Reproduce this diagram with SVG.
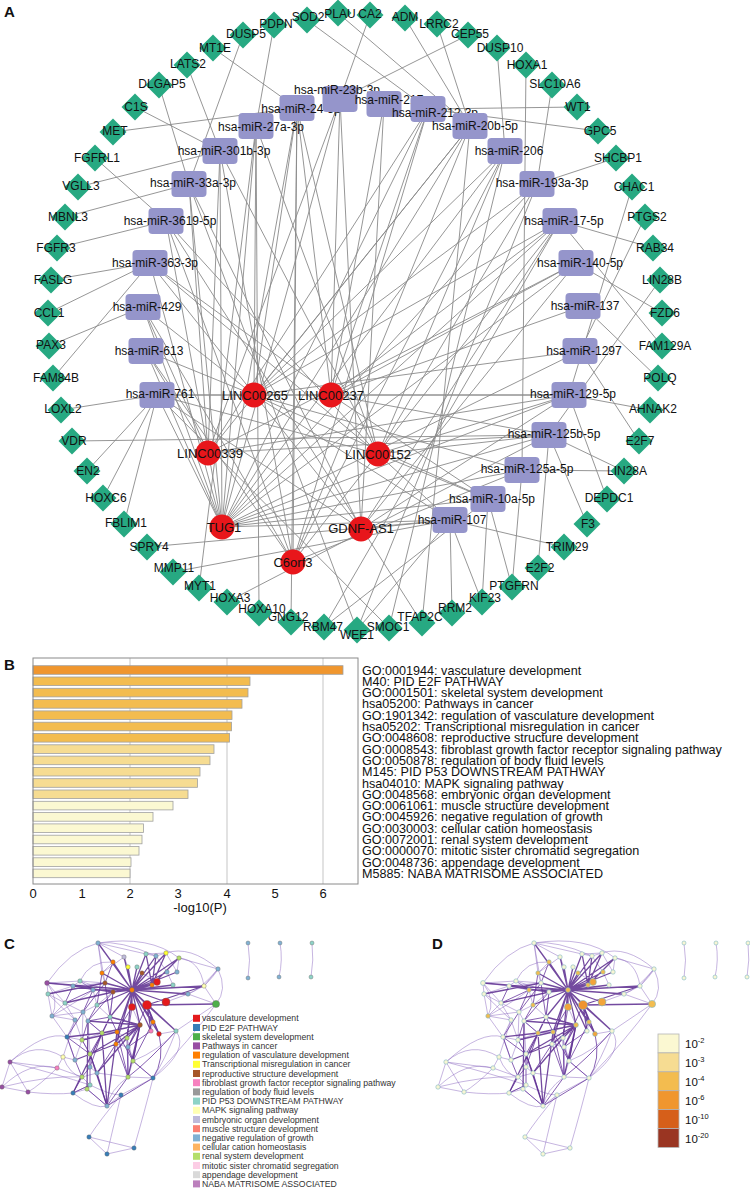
<svg xmlns="http://www.w3.org/2000/svg" width="750" height="1189" viewBox="0 0 750 1189">
<style>
.t{font-family:"Liberation Sans",Arial,sans-serif;fill:#111}
.c{text-anchor:middle;font-size:12px}
.lc{text-anchor:middle;font-size:13px}
.e line{stroke:#8a8a8a;stroke-width:0.9}
.g{fill:#27a982}
.m{fill:#9595cb}
.l{fill:#e8161b}
.pl{font-weight:bold;font-size:15px}
.bar{stroke:#a0a0a0;stroke-width:0.8}
.bl{font-size:12.6px}
.lg{font-size:8.7px;fill:#333}
.thick{fill:none;stroke:#5b2a8e;stroke-width:1.3;stroke-opacity:.85}
.mid{fill:none;stroke:#6a3aa0;stroke-width:1;stroke-opacity:.8}
.thin{fill:none;stroke:#8a68c0;stroke-width:.7;stroke-opacity:.7}
.cn circle{stroke:#666;stroke-width:.4}
.dn circle{stroke:#7fb8c4;stroke-width:.6}
</style>
<defs>
<path id="dia" d="M0-13.5L13.5 0L0 13.5L-13.5 0Z"/>
<rect id="mr" x="-17.5" y="-13" width="35" height="26" rx="4"/>
<g id="cnet">
<path class="thin" d="M47 983L73 986M47 983L48 994M47 983Q70 950 98 943M48 994L65 1003M73 986L93 990M93 990L97 1005M65 1003L75 1020M75 1020L67 1037M67 1037L82 1040M82 1040L75 1060M75 1060L63 1057M63 1057L57 1068M57 1068L10 1062M10 1062L2 1087M2 1087L28 1092M28 1092L10 1062M57 1068Q40 1085 28 1092M57 1068L82 1077M82 1077L90 1085M90 1085L73 1093M73 1093L87 1089M87 1089L107 1106M107 1106L121 1095M121 1095L153 1078M153 1078L133 1061M133 1061L128 1047M128 1047L116 1044M116 1044L127 1038M127 1038L117 1032M117 1032L102 1033M102 1033L88 1021M88 1021L83 1012M83 1012L52 1016M52 1016L48 994M52 1016L65 1003M110 1017L113 992M110 1017L97 1005M110 1017L102 1033M90 1054L90 1067M90 1067L97 1073M97 1073L82 1077M97 1073L128 1077M128 1077L133 1061M128 1077L153 1078M90 1054L82 1040M88 1021L90 1054M127 1038L133 1061M153 1022L151 1031M159 1034L176 1031M176 1031L216 1004M216 1004L204 986M204 986L218 969M218 969L179 958M179 958L177 972M166 953L156 956M146 954L156 956M124 957L128 967M113 962L102 973M98 943L124 957M98 943L102 973M102 973L105 983M105 983L73 986M80 981L105 983M80 981L113 992M113 992L97 1005M142 973L157 982M157 982L152 985M166 1002L188 994M188 994L204 986M188 994L216 1004M147 1005L153 1022M132 1007L140 1025M147 1005L159 1034M121 1095Q100 1120 89 1137M89 1137L134 1148M134 1148L107 1154M107 1154L89 1137M134 1148Q145 1110 153 1078M107 1154Q115 1120 121 1095M216 1004Q190 1040 153 1078M218 969Q228 990 216 1004M98 943L146 954M146 954L166 953M166 953L177 972M156 956L167 972M167 972L173 985M80 981L73 986M73 986L48 994M52 1016L75 1020M65 1003L83 1012M75 1020L82 1040M67 1037L75 1060M10 1062Q35 1040 63 1057M97 1005L83 1012M102 1033L82 1040M93 990L80 981M10 1062Q45 1030 67 1037M2 1087Q50 1075 82 1077M47 983L80 981M176 1031Q190 1050 153 1078M204 986Q215 975 218 969M98 943Q150 935 179 958M47 983Q60 1000 52 1016M90 1085Q110 1095 121 1095M128 1077Q110 1090 107 1106M63 1057Q70 1075 82 1077M179 958Q200 960 204 986M52 1016L67 1037M75 1020L63 1057M83 1012L82 1040M48 994L75 1020M47 983L65 1003M98 943L105 983M124 957L102 973M80 981L93 990M2 1087Q30 1060 57 1068M28 1092Q55 1095 73 1093M10 1062Q60 1075 90 1085M153 1078Q165 1060 176 1031M133 1061Q160 1050 176 1031M97 1073L107 1106M73 1093Q95 1110 107 1106M98 943Q120 940 156 956M218 969Q200 990 188 994M166 953Q190 945 218 969M52 1016Q80 1000 93 990M113 962Q90 960 80 981"/>
<path class="mid" d="M82 1040L90 1054M90 1054L90 1067M90 1067L90 1085M90 1085L87 1089M87 1089L107 1106M107 1106L97 1073M97 1073L90 1054M102 1033L90 1054M102 1033L90 1067M117 1032L128 1077M116 1044L128 1077M116 1044L97 1073M127 1038L128 1077M128 1047L133 1061M128 1047L128 1077M67 1037L90 1054M67 1037L75 1060M75 1060L82 1077M82 1077L73 1093M73 1093L90 1085M88 1021L82 1040M88 1021L102 1033M83 1012L67 1037M110 1017L88 1021M110 1017L117 1032M97 1005L88 1021M113 992L110 1017M93 990L83 1012M73 986L65 1003M105 983L110 1017M102 973L97 1005M113 962L105 983M133 1061L153 1078M128 1077L107 1106M153 1078L107 1106M90 1067L82 1077M117 1032L133 1061M140 1025L133 1061M153 1022L133 1061M151 1031L128 1047M147 1005L128 1047M132 1007L117 1032M132 1007L127 1038M159 1034Q165 1060 153 1078M176 1031Q150 1060 128 1077M113 992L88 1021M93 990L65 1003M105 983L83 1012"/>
<path class="thick" d="M132 990L98 943M132 990L113 962M132 990L124 957M132 990L128 967M132 990L137 967M132 990L146 954M132 990L156 956M132 990L166 953M132 990L179 958M132 990L142 973M132 990L167 972M132 990L177 972M132 990L105 983M132 990L157 982M132 990L173 985M132 990L204 986M132 990L152 985M132 990L188 994M132 990L166 1002M132 990L147 1005M132 990L132 1007M132 990L153 1022M132 990L140 1025M132 990L159 1034M132 990L151 1031M132 990L176 1031M132 990L117 1032M132 990L93 990M132 990L113 992M132 990L102 973M132 990L47 983M132 990L97 1005M132 990L110 1017M132 990L127 1038M132 990L116 1044M140 1025L102 1033M140 1025L127 1038M140 1025L128 1047M140 1025L90 1054M140 1025L133 1061M140 1025L128 1077M140 1025L116 1044M140 1025L110 1017M140 1025L88 1021M147 1005L153 1022M147 1005L159 1034M147 1005L151 1031M147 1005L176 1031M147 1005L216 1004M147 1005L204 986M152 985L146 954M152 985L166 953M152 985L156 956M152 985L179 958M113 992L65 1003M113 992L73 986M105 983L48 994M117 1032L82 1040M116 1044L75 1060M102 1033L67 1037M102 1033L107 1106M117 1032L107 1106M90 1054L107 1106M127 1038L97 1073M110 1017L73 1093M88 1021L87 1089"/>
<path class="thin" d="M248 943Q251 960 248 978M280 943Q283 960 279 977M312 943Q314 960 311 977"/>
</g>
</defs>

<text class="t pl" x="4" y="17">A</text>

<g id="connectors" class="e">
<line x1="222" y1="527" x2="297" y2="108"/><line x1="222" y1="527" x2="340" y2="99"/><line x1="222" y1="527" x2="428" y2="109"/><line x1="222" y1="527" x2="470" y2="126"/><line x1="222" y1="527" x2="505" y2="151"/><line x1="222" y1="527" x2="537" y2="184"/><line x1="222" y1="527" x2="560" y2="221"/><line x1="222" y1="527" x2="576" y2="263"/><line x1="222" y1="527" x2="580" y2="351"/><line x1="222" y1="527" x2="569" y2="395"/><line x1="222" y1="527" x2="549" y2="435"/><line x1="222" y1="527" x2="522" y2="470"/><line x1="222" y1="527" x2="488" y2="499"/><line x1="222" y1="527" x2="450" y2="520"/><line x1="222" y1="527" x2="256" y2="126"/><line x1="222" y1="527" x2="220" y2="151"/><line x1="222" y1="527" x2="189" y2="184"/><line x1="222" y1="527" x2="166" y2="221"/><line x1="222" y1="527" x2="150" y2="263"/><line x1="222" y1="527" x2="143" y2="307"/><line x1="222" y1="527" x2="146" y2="351"/><line x1="222" y1="527" x2="157" y2="395"/>
<line x1="254" y1="395" x2="157" y2="395"/><line x1="254" y1="395" x2="146" y2="351"/><line x1="254" y1="395" x2="143" y2="307"/><line x1="254" y1="395" x2="256" y2="126"/><line x1="254" y1="395" x2="297" y2="108"/><line x1="254" y1="395" x2="470" y2="126"/><line x1="254" y1="395" x2="505" y2="151"/><line x1="254" y1="395" x2="537" y2="184"/><line x1="254" y1="395" x2="560" y2="221"/><line x1="254" y1="395" x2="580" y2="351"/><line x1="254" y1="395" x2="569" y2="395"/><line x1="254" y1="395" x2="522" y2="470"/><line x1="254" y1="395" x2="488" y2="499"/><line x1="254" y1="395" x2="450" y2="520"/>
<line x1="331" y1="395" x2="157" y2="395"/><line x1="331" y1="395" x2="150" y2="263"/><line x1="331" y1="395" x2="297" y2="108"/><line x1="331" y1="395" x2="340" y2="99"/><line x1="331" y1="395" x2="384" y2="104"/><line x1="331" y1="395" x2="428" y2="109"/><line x1="331" y1="395" x2="560" y2="221"/><line x1="331" y1="395" x2="576" y2="263"/><line x1="331" y1="395" x2="583" y2="306"/><line x1="331" y1="395" x2="569" y2="395"/><line x1="331" y1="395" x2="549" y2="435"/><line x1="331" y1="395" x2="488" y2="499"/>
<line x1="208" y1="453" x2="146" y2="351"/><line x1="208" y1="453" x2="143" y2="307"/><line x1="208" y1="453" x2="220" y2="151"/><line x1="208" y1="453" x2="189" y2="184"/><line x1="208" y1="453" x2="340" y2="99"/><line x1="208" y1="453" x2="428" y2="109"/><line x1="208" y1="453" x2="470" y2="126"/><line x1="208" y1="453" x2="576" y2="263"/><line x1="208" y1="453" x2="569" y2="395"/><line x1="208" y1="453" x2="549" y2="435"/>
<line x1="378" y1="454" x2="150" y2="263"/><line x1="378" y1="454" x2="166" y2="221"/><line x1="378" y1="454" x2="256" y2="126"/><line x1="378" y1="454" x2="220" y2="151"/><line x1="378" y1="454" x2="297" y2="108"/><line x1="378" y1="454" x2="505" y2="151"/><line x1="378" y1="454" x2="537" y2="184"/><line x1="378" y1="454" x2="569" y2="395"/><line x1="378" y1="454" x2="549" y2="435"/><line x1="378" y1="454" x2="488" y2="499"/><line x1="378" y1="454" x2="450" y2="520"/><line x1="378" y1="454" x2="157" y2="395"/>
<line x1="361" y1="529" x2="157" y2="395"/><line x1="361" y1="529" x2="150" y2="263"/><line x1="361" y1="529" x2="189" y2="184"/><line x1="361" y1="529" x2="340" y2="99"/><line x1="361" y1="529" x2="384" y2="104"/><line x1="361" y1="529" x2="560" y2="221"/><line x1="361" y1="529" x2="576" y2="263"/><line x1="361" y1="529" x2="569" y2="395"/><line x1="361" y1="529" x2="450" y2="520"/>
<line x1="293" y1="562" x2="146" y2="351"/><line x1="293" y1="562" x2="143" y2="307"/><line x1="293" y1="562" x2="166" y2="221"/><line x1="293" y1="562" x2="220" y2="151"/><line x1="293" y1="562" x2="297" y2="108"/><line x1="293" y1="562" x2="428" y2="109"/><line x1="293" y1="562" x2="470" y2="126"/><line x1="293" y1="562" x2="505" y2="151"/><line x1="293" y1="562" x2="560" y2="221"/><line x1="293" y1="562" x2="522" y2="470"/>
<line x1="307" y1="20" x2="428" y2="109"/><line x1="338" y1="13" x2="470" y2="126"/><line x1="370" y1="15" x2="340" y2="99"/><line x1="405" y1="18" x2="470" y2="126"/><line x1="437" y1="24" x2="470" y2="126"/><line x1="468" y1="35" x2="340" y2="99"/><line x1="497" y1="48" x2="505" y2="151"/><line x1="526" y1="65" x2="522" y2="470"/><line x1="552" y1="85" x2="537" y2="184"/><line x1="577" y1="107" x2="428" y2="109"/><line x1="598" y1="131" x2="428" y2="109"/><line x1="616" y1="158" x2="537" y2="184"/><line x1="632" y1="187" x2="569" y2="395"/><line x1="645" y1="217" x2="580" y2="351"/><line x1="653" y1="248" x2="560" y2="221"/><line x1="660" y1="280" x2="549" y2="435"/><line x1="662" y1="313" x2="576" y2="263"/><line x1="662" y1="346" x2="560" y2="221"/><line x1="658" y1="378" x2="583" y2="306"/><line x1="650" y1="410" x2="569" y2="395"/><line x1="639" y1="441" x2="580" y2="351"/><line x1="624" y1="471" x2="522" y2="470"/><line x1="624" y1="471" x2="549" y2="435"/><line x1="607" y1="499" x2="569" y2="395"/><line x1="587" y1="524" x2="549" y2="435"/><line x1="564" y1="547" x2="450" y2="520"/><line x1="538" y1="568" x2="549" y2="435"/><line x1="512" y1="587" x2="488" y2="499"/><line x1="512" y1="587" x2="522" y2="470"/><line x1="482" y1="602" x2="488" y2="499"/><line x1="482" y1="602" x2="450" y2="520"/><line x1="452" y1="613" x2="450" y2="520"/><line x1="422" y1="623" x2="166" y2="221"/><line x1="422" y1="623" x2="470" y2="126"/><line x1="389" y1="628" x2="157" y2="395"/><line x1="389" y1="628" x2="505" y2="151"/><line x1="357" y1="630" x2="450" y2="520"/><line x1="357" y1="630" x2="189" y2="184"/><line x1="357" y1="630" x2="537" y2="184"/><line x1="324" y1="627" x2="488" y2="499"/><line x1="324" y1="627" x2="560" y2="221"/><line x1="291" y1="622" x2="297" y2="108"/><line x1="259" y1="613" x2="256" y2="126"/><line x1="227" y1="602" x2="549" y2="435"/><line x1="199" y1="588" x2="256" y2="126"/><line x1="173" y1="572" x2="450" y2="520"/><line x1="147" y1="547" x2="450" y2="520"/><line x1="124" y1="524" x2="157" y2="395"/><line x1="103" y1="498" x2="157" y2="395"/><line x1="87" y1="471" x2="157" y2="395"/><line x1="72" y1="441" x2="549" y2="435"/><line x1="61" y1="410" x2="157" y2="395"/><line x1="53" y1="378" x2="150" y2="263"/><line x1="49" y1="346" x2="143" y2="307"/><line x1="48" y1="313" x2="150" y2="263"/><line x1="51" y1="280" x2="150" y2="263"/><line x1="57" y1="248" x2="166" y2="221"/><line x1="65" y1="217" x2="189" y2="184"/><line x1="78" y1="187" x2="220" y2="151"/><line x1="95" y1="158" x2="166" y2="221"/><line x1="113" y1="132" x2="297" y2="108"/><line x1="135" y1="107" x2="220" y2="151"/><line x1="159" y1="85" x2="189" y2="184"/><line x1="187" y1="65" x2="220" y2="151"/><line x1="213" y1="48" x2="297" y2="108"/><line x1="243" y1="35" x2="189" y2="184"/><line x1="274" y1="25" x2="256" y2="126"/>
</g>

<g id="mirnas" class="t">
<g id="m-24-3p"><use href="#mr" x="297" y="108" class="m"/><text class="c" x="301" y="113">hsa-miR-24-3p</text></g>
<g id="m-23b-3p"><use href="#mr" x="340" y="99" class="m"/><text class="c" x="337" y="94">hsa-miR-23b-3p</text></g>
<g id="m-217"><use href="#mr" x="384" y="104" class="m"/><text class="c" x="389" y="104">hsa-miR-217</text></g>
<g id="m-212-3p"><use href="#mr" x="428" y="109" class="m"/><text class="c" x="435" y="117">hsa-miR-212-3p</text></g>
<g id="m-20b-5p"><use href="#mr" x="470" y="126" class="m"/><text class="c" x="475" y="130">hsa-miR-20b-5p</text></g>
<g id="m-206"><use href="#mr" x="505" y="151" class="m"/><text class="c" x="509" y="155">hsa-miR-206</text></g>
<g id="m-193a-3p"><use href="#mr" x="537" y="184" class="m"/><text class="c" x="542" y="187">hsa-miR-193a-3p</text></g>
<g id="m-17-5p"><use href="#mr" x="560" y="221" class="m"/><text class="c" x="564" y="225">hsa-miR-17-5p</text></g>
<g id="m-140-5p"><use href="#mr" x="576" y="263" class="m"/><text class="c" x="580" y="267">hsa-miR-140-5p</text></g>
<g id="m-137"><use href="#mr" x="583" y="306" class="m"/><text class="c" x="585" y="310">hsa-miR-137</text></g>
<g id="m-1297"><use href="#mr" x="580" y="351" class="m"/><text class="c" x="584" y="355">hsa-miR-1297</text></g>
<g id="m-129-5p"><use href="#mr" x="569" y="395" class="m"/><text class="c" x="573" y="398">hsa-miR-129-5p</text></g>
<g id="m-125b-5p"><use href="#mr" x="549" y="435" class="m"/><text class="c" x="554" y="438">hsa-miR-125b-5p</text></g>
<g id="m-125a-5p"><use href="#mr" x="522" y="470" class="m"/><text class="c" x="527" y="473">hsa-miR-125a-5p</text></g>
<g id="m-10a-5p"><use href="#mr" x="488" y="499" class="m"/><text class="c" x="492" y="503">hsa-miR-10a-5p</text></g>
<g id="m-107"><use href="#mr" x="450" y="520" class="m"/><text class="c" x="452" y="524">hsa-miR-107</text></g>
<g id="m-27a-3p"><use href="#mr" x="256" y="126" class="m"/><text class="c" x="261" y="131">hsa-miR-27a-3p</text></g>
<g id="m-301b-3p"><use href="#mr" x="220" y="151" class="m"/><text class="c" x="224" y="155">hsa-miR-301b-3p</text></g>
<g id="m-33a-3p"><use href="#mr" x="189" y="184" class="m"/><text class="c" x="193" y="187">hsa-miR-33a-3p</text></g>
<g id="m-3619-5p"><use href="#mr" x="166" y="221" class="m"/><text class="c" x="170" y="225">hsa-miR-3619-5p</text></g>
<g id="m-363-3p"><use href="#mr" x="150" y="263" class="m"/><text class="c" x="155" y="267">hsa-miR-363-3p</text></g>
<g id="m-429"><use href="#mr" x="143" y="307" class="m"/><text class="c" x="147" y="311">hsa-miR-429</text></g>
<g id="m-613"><use href="#mr" x="146" y="351" class="m"/><text class="c" x="149" y="355">hsa-miR-613</text></g>
<g id="m-761"><use href="#mr" x="157" y="395" class="m"/><text class="c" x="160" y="398">hsa-miR-761</text></g>
</g>

<g id="genes" class="t">
<g id="g-SOD2"><use href="#dia" x="307" y="20" class="g"/><text class="c" x="308" y="21">SOD2</text></g>
<g id="g-PLAU"><use href="#dia" x="338" y="13" class="g"/><text class="c" x="340" y="18">PLAU</text></g>
<g id="g-CA2"><use href="#dia" x="370" y="15" class="g"/><text class="c" x="370" y="18">CA2</text></g>
<g id="g-ADM"><use href="#dia" x="405" y="18" class="g"/><text class="c" x="405" y="21">ADM</text></g>
<g id="g-LRRC2"><use href="#dia" x="437" y="24" class="g"/><text class="c" x="439" y="28">LRRC2</text></g>
<g id="g-CEP55"><use href="#dia" x="468" y="35" class="g"/><text class="c" x="470" y="38">CEP55</text></g>
<g id="g-DUSP10"><use href="#dia" x="497" y="48" class="g"/><text class="c" x="500" y="52">DUSP10</text></g>
<g id="g-HOXA1"><use href="#dia" x="526" y="65" class="g"/><text class="c" x="527" y="69">HOXA1</text></g>
<g id="g-SLC10A6"><use href="#dia" x="552" y="85" class="g"/><text class="c" x="555" y="88">SLC10A6</text></g>
<g id="g-WT1"><use href="#dia" x="577" y="107" class="g"/><text class="c" x="578" y="111">WT1</text></g>
<g id="g-GPC5"><use href="#dia" x="598" y="131" class="g"/><text class="c" x="600" y="135">GPC5</text></g>
<g id="g-SHCBP1"><use href="#dia" x="616" y="158" class="g"/><text class="c" x="618" y="162">SHCBP1</text></g>
<g id="g-CHAC1"><use href="#dia" x="632" y="187" class="g"/><text class="c" x="634" y="191">CHAC1</text></g>
<g id="g-PTGS2"><use href="#dia" x="645" y="217" class="g"/><text class="c" x="647" y="221">PTGS2</text></g>
<g id="g-RAB34"><use href="#dia" x="653" y="248" class="g"/><text class="c" x="655" y="252">RAB34</text></g>
<g id="g-LIN28B"><use href="#dia" x="660" y="280" class="g"/><text class="c" x="662" y="284">LIN28B</text></g>
<g id="g-FZD6"><use href="#dia" x="662" y="313" class="g"/><text class="c" x="665" y="317">FZD6</text></g>
<g id="g-FAM129A"><use href="#dia" x="662" y="346" class="g"/><text class="c" x="665" y="350">FAM129A</text></g>
<g id="g-POLQ"><use href="#dia" x="658" y="378" class="g"/><text class="c" x="660" y="382">POLQ</text></g>
<g id="g-AHNAK2"><use href="#dia" x="650" y="410" class="g"/><text class="c" x="653" y="413">AHNAK2</text></g>
<g id="g-E2F7"><use href="#dia" x="639" y="441" class="g"/><text class="c" x="640" y="445">E2F7</text></g>
<g id="g-LIN28A"><use href="#dia" x="624" y="471" class="g"/><text class="c" x="627" y="475">LIN28A</text></g>
<g id="g-DEPDC1"><use href="#dia" x="607" y="499" class="g"/><text class="c" x="609" y="502">DEPDC1</text></g>
<g id="g-F3"><use href="#dia" x="587" y="524" class="g"/><text class="c" x="588" y="528">F3</text></g>
<g id="g-TRIM29"><use href="#dia" x="564" y="547" class="g"/><text class="c" x="567" y="551">TRIM29</text></g>
<g id="g-E2F2"><use href="#dia" x="538" y="568" class="g"/><text class="c" x="540" y="572">E2F2</text></g>
<g id="g-PTGFRN"><use href="#dia" x="512" y="587" class="g"/><text class="c" x="514" y="590">PTGFRN</text></g>
<g id="g-KIF23"><use href="#dia" x="482" y="602" class="g"/><text class="c" x="485" y="602">KIF23</text></g>
<g id="g-RRM2"><use href="#dia" x="452" y="613" class="g"/><text class="c" x="455" y="612">RRM2</text></g>
<g id="g-TFAP2C"><use href="#dia" x="422" y="623" class="g"/><text class="c" x="420" y="621">TFAP2C</text></g>
<g id="g-SMOC1"><use href="#dia" x="389" y="628" class="g"/><text class="c" x="388" y="631">SMOC1</text></g>
<g id="g-RBM47"><use href="#dia" x="324" y="627" class="g"/><text class="c" x="323" y="631">RBM47</text></g>
<g id="g-WEE1"><use href="#dia" x="357" y="630" class="g"/><text class="c" x="357" y="639">WEE1</text></g>
<g id="g-GNG12"><use href="#dia" x="291" y="622" class="g"/><text class="c" x="288" y="621">GNG12</text></g>
<g id="g-HOXA10"><use href="#dia" x="259" y="613" class="g"/><text class="c" x="262" y="613">HOXA10</text></g>
<g id="g-HOXA3"><use href="#dia" x="227" y="602" class="g"/><text class="c" x="230" y="602">HOXA3</text></g>
<g id="g-MYT1"><use href="#dia" x="199" y="588" class="g"/><text class="c" x="200" y="590">MYT1</text></g>
<g id="g-MMP11"><use href="#dia" x="173" y="572" class="g"/><text class="c" x="174" y="572">MMP11</text></g>
<g id="g-SPRY4"><use href="#dia" x="147" y="547" class="g"/><text class="c" x="149" y="551">SPRY4</text></g>
<g id="g-FBLIM1"><use href="#dia" x="124" y="524" class="g"/><text class="c" x="126" y="527">FBLIM1</text></g>
<g id="g-HOXC6"><use href="#dia" x="103" y="498" class="g"/><text class="c" x="106" y="502">HOXC6</text></g>
<g id="g-EN2"><use href="#dia" x="87" y="471" class="g"/><text class="c" x="88" y="475">EN2</text></g>
<g id="g-VDR"><use href="#dia" x="72" y="441" class="g"/><text class="c" x="74" y="445">VDR</text></g>
<g id="g-LOXL2"><use href="#dia" x="61" y="410" class="g"/><text class="c" x="63" y="413">LOXL2</text></g>
<g id="g-FAM84B"><use href="#dia" x="53" y="378" class="g"/><text class="c" x="56" y="382">FAM84B</text></g>
<g id="g-PAX3"><use href="#dia" x="49" y="346" class="g"/><text class="c" x="51" y="349">PAX3</text></g>
<g id="g-CCL1"><use href="#dia" x="48" y="313" class="g"/><text class="c" x="49" y="317">CCL1</text></g>
<g id="g-FASLG"><use href="#dia" x="51" y="280" class="g"/><text class="c" x="53" y="284">FASLG</text></g>
<g id="g-FGFR3"><use href="#dia" x="57" y="248" class="g"/><text class="c" x="56" y="252">FGFR3</text></g>
<g id="g-MBNL3"><use href="#dia" x="65" y="217" class="g"/><text class="c" x="68" y="221">MBNL3</text></g>
<g id="g-VGLL3"><use href="#dia" x="78" y="187" class="g"/><text class="c" x="81" y="190">VGLL3</text></g>
<g id="g-FGFRL1"><use href="#dia" x="95" y="158" class="g"/><text class="c" x="97" y="162">FGFRL1</text></g>
<g id="g-MET"><use href="#dia" x="113" y="132" class="g"/><text class="c" x="115" y="135">MET</text></g>
<g id="g-C1S"><use href="#dia" x="135" y="107" class="g"/><text class="c" x="136" y="111">C1S</text></g>
<g id="g-DLGAP5"><use href="#dia" x="159" y="85" class="g"/><text class="c" x="162" y="88">DLGAP5</text></g>
<g id="g-LATS2"><use href="#dia" x="187" y="65" class="g"/><text class="c" x="188" y="68">LATS2</text></g>
<g id="g-MT1E"><use href="#dia" x="213" y="48" class="g"/><text class="c" x="215" y="52">MT1E</text></g>
<g id="g-DUSP5"><use href="#dia" x="243" y="35" class="g"/><text class="c" x="246" y="38">DUSP5</text></g>
<g id="g-PDPN"><use href="#dia" x="274" y="25" class="g"/><text class="c" x="276" y="28">PDPN</text></g>
</g>

<g id="lncrnas" class="t">
<g id="l-LINC00265"><circle cx="254" cy="395" r="12.5" class="l"/><text class="lc" x="255" y="400">LINC00265</text></g>
<g id="l-LINC00237"><circle cx="331" cy="395" r="12.5" class="l"/><text class="lc" x="331" y="400">LINC00237</text></g>
<g id="l-LINC00339"><circle cx="208" cy="453" r="12.5" class="l"/><text class="lc" x="210" y="458">LINC00339</text></g>
<g id="l-LINC00152"><circle cx="378" cy="454" r="12.5" class="l"/><text class="lc" x="378" y="459">LINC00152</text></g>
<g id="l-TUG1"><circle cx="222" cy="527" r="12.5" class="l"/><text class="lc" x="224" y="532">TUG1</text></g>
<g id="l-GDNF-AS1"><circle cx="361" cy="529" r="12.5" class="l"/><text class="lc" x="361" y="533">GDNF-AS1</text></g>
<g id="l-C6orf3"><circle cx="293" cy="562" r="12.5" class="l"/><text class="lc" x="293" y="567">C6orf3</text></g>
</g>

<g id="panelB" class="t">
<text class="pl" x="4" y="670">B</text>
<g stroke="#cfcfcf" stroke-width="1.2"><line x1="130" y1="658" x2="130" y2="884"/><line x1="227" y1="658" x2="227" y2="884"/><line x1="323" y1="658" x2="323" y2="884"/></g>
<g class="bar">
<rect x="33" y="665.7" width="310" height="8.6" fill="#f0962e"/>
<rect x="33" y="677" width="217" height="8.6" fill="#f3bc4f"/>
<rect x="33" y="688.3" width="215" height="8.6" fill="#f3bc4f"/>
<rect x="33" y="699.6" width="209" height="8.6" fill="#f3bc4f"/>
<rect x="33" y="710.9" width="199" height="8.6" fill="#f3bc4f"/>
<rect x="33" y="722.2" width="198.5" height="8.6" fill="#f3bc4f"/>
<rect x="33" y="733.5" width="196.5" height="8.6" fill="#f3bc4f"/>
<rect x="33" y="744.8" width="181" height="8.6" fill="#f6dc92"/>
<rect x="33" y="756.1" width="177" height="8.6" fill="#f6dc92"/>
<rect x="33" y="767.4" width="167" height="8.6" fill="#f6dc92"/>
<rect x="33" y="778.7" width="164.5" height="8.6" fill="#f6dc92"/>
<rect x="33" y="790" width="155" height="8.6" fill="#f6dc92"/>
<rect x="33" y="801.3" width="140" height="8.6" fill="#fbf8d2"/>
<rect x="33" y="812.6" width="120" height="8.6" fill="#fbf8d2"/>
<rect x="33" y="823.9" width="110.5" height="8.6" fill="#fbf8d2"/>
<rect x="33" y="835.2" width="109" height="8.6" fill="#fbf8d2"/>
<rect x="33" y="846.5" width="106" height="8.6" fill="#fbf8d2"/>
<rect x="33" y="857.8" width="98" height="8.6" fill="#fbf8d2"/>
<rect x="33" y="869.1" width="97" height="8.6" fill="#fbf8d2"/>
</g>
<rect x="33" y="658" width="325" height="226" fill="none" stroke="#8a8a8a" stroke-width="1"/>
<g class="bl">
<text x="362" y="674.5">GO:0001944: vasculature development</text>
<text x="362" y="685.8">M40: PID E2F PATHWAY</text>
<text x="362" y="697.1">GO:0001501: skeletal system development</text>
<text x="362" y="708.4">hsa05200: Pathways in cancer</text>
<text x="362" y="719.7">GO:1901342: regulation of vasculature development</text>
<text x="362" y="731">hsa05202: Transcriptional misregulation in cancer</text>
<text x="362" y="742.3">GO:0048608: reproductive structure development</text>
<text x="362" y="753.6">GO:0008543: fibroblast growth factor receptor signaling pathway</text>
<text x="362" y="764.9">GO:0050878: regulation of body fluid levels</text>
<text x="362" y="776.2">M145: PID P53 DOWNSTREAM PATHWAY</text>
<text x="362" y="787.5">hsa04010: MAPK signaling pathway</text>
<text x="362" y="798.8">GO:0048568: embryonic organ development</text>
<text x="362" y="810.1">GO:0061061: muscle structure development</text>
<text x="362" y="821.4">GO:0045926: negative regulation of growth</text>
<text x="362" y="832.7">GO:0030003: cellular cation homeostasis</text>
<text x="362" y="844">GO:0072001: renal system development</text>
<text x="362" y="855.3">GO:0000070: mitotic sister chromatid segregation</text>
<text x="362" y="866.6">GO:0048736: appendage development</text>
<text x="362" y="877.9">M5885: NABA MATRISOME ASSOCIATED</text>
</g>
<g font-size="13px" text-anchor="middle">
<text x="33" y="898">0</text><text x="82" y="898">1</text><text x="130" y="898">2</text><text x="178" y="898">3</text><text x="227" y="898">4</text><text x="275" y="898">5</text><text x="323" y="898">6</text>
<text x="200" y="912">-log10(P)</text>
</g>
</g>

<g id="panelC" class="t">
<text class="pl" x="4" y="949">C</text>
<use href="#cnet"/>
<g class="cn" fill="#80b1d3">
<circle cx="98" cy="943" r="2.2"/><circle cx="113" cy="962" r="2.2" fill="#ff7f00"/><circle cx="124" cy="957" r="2.2" fill="#bebada"/><circle cx="128" cy="967" r="2.2" fill="#ffff33"/><circle cx="137" cy="967" r="2.2" fill="#8dd3c7"/><circle cx="146" cy="954" r="2.2" fill="#8dd3c7"/><circle cx="156" cy="956" r="2.2"/><circle cx="166" cy="953" r="2.2" fill="#ffff33"/><circle cx="179" cy="958" r="2.2" fill="#b3de69"/><circle cx="142" cy="973" r="2.2" fill="#a65628"/><circle cx="167" cy="972" r="2.2"/><circle cx="177" cy="972" r="2.2"/><circle cx="102" cy="973" r="2.2" fill="#ff7f00"/><circle cx="47" cy="983" r="2.4" fill="#984ea3"/><circle cx="80" cy="981" r="2.2" fill="#8dd3c7"/><circle cx="105" cy="983" r="2.2" fill="#a65628"/><circle cx="157" cy="982" r="3.4" fill="#e41a1c"/><circle cx="173" cy="985" r="2.2" fill="#8dd3c7"/><circle cx="204" cy="986" r="2.2" fill="#ffffb3"/><circle cx="218" cy="969" r="2.2"/><circle cx="48" cy="994" r="2.2" fill="#8dd3c7"/><circle cx="73" cy="986" r="2.2"/><circle cx="93" cy="990" r="2.2"/><circle cx="113" cy="992" r="2.2" fill="#a65628"/><circle cx="132" cy="990" r="2.4" fill="#ff7f00"/><circle cx="152" cy="985" r="2.2" fill="#ff7f00"/><circle cx="188" cy="994" r="2.2"/><circle cx="166" cy="1002" r="4" fill="#e41a1c"/><circle cx="147" cy="1005" r="4.6" fill="#e41a1c"/><circle cx="132" cy="1007" r="3.6" fill="#e41a1c"/><circle cx="216" cy="1004" r="3.6" fill="#4daf4a"/><circle cx="52" cy="1016" r="2.2"/><circle cx="65" cy="1003" r="2.2" fill="#8dd3c7"/><circle cx="97" cy="1005" r="2.2" fill="#8dd3c7"/><circle cx="110" cy="1017" r="2.2" fill="#8dd3c7"/><circle cx="83" cy="1012" r="2.2"/><circle cx="153" cy="1022" r="2.2" fill="#ff7f00"/><circle cx="140" cy="1025" r="2.4" fill="#a65628"/><circle cx="159" cy="1034" r="2.4" fill="#e41a1c"/><circle cx="151" cy="1031" r="2.2" fill="#f781bf"/><circle cx="176" cy="1031" r="2.2" fill="#8dd3c7"/><circle cx="88" cy="1021" r="2.2"/><circle cx="75" cy="1020" r="2.2"/><circle cx="102" cy="1033" r="2.2" fill="#b3de69"/><circle cx="67" cy="1037" r="2.2" fill="#377eb8"/><circle cx="117" cy="1032" r="2.2" fill="#ff7f00"/><circle cx="127" cy="1038" r="2.2" fill="#b3de69"/><circle cx="116" cy="1044" r="2.2" fill="#ff7f00"/><circle cx="128" cy="1047" r="2.2"/><circle cx="82" cy="1040" r="2.2" fill="#b3de69"/><circle cx="63" cy="1057" r="2.2" fill="#ffffb3"/><circle cx="90" cy="1054" r="2.2" fill="#b3de69"/><circle cx="75" cy="1060" r="2.2"/><circle cx="133" cy="1061" r="2.2" fill="#b3de69"/><circle cx="57" cy="1068" r="2.2" fill="#f781bf"/><circle cx="10" cy="1062" r="2.2" fill="#984ea3"/><circle cx="90" cy="1067" r="2.2"/><circle cx="82" cy="1077" r="2.2" fill="#b3de69"/><circle cx="128" cy="1077" r="2.2" fill="#b3de69"/><circle cx="153" cy="1078" r="2.2" fill="#377eb8"/><circle cx="97" cy="1073" r="2.2"/><circle cx="90" cy="1085" r="2.2" fill="#8dd3c7"/><circle cx="73" cy="1093" r="2.2" fill="#377eb8"/><circle cx="87" cy="1089" r="2.2" fill="#b3de69"/><circle cx="2" cy="1087" r="2.2" fill="#984ea3"/><circle cx="28" cy="1092" r="2.2" fill="#984ea3"/><circle cx="107" cy="1106" r="2.2"/><circle cx="121" cy="1095" r="2.2" fill="#377eb8"/><circle cx="89" cy="1137" r="2.2" fill="#377eb8"/><circle cx="134" cy="1148" r="2.2" fill="#377eb8"/><circle cx="107" cy="1154" r="2.2" fill="#377eb8"/>
<circle cx="248" cy="943" r="2"/><circle cx="248" cy="978" r="2"/><circle cx="280" cy="943" r="2"/><circle cx="279" cy="977" r="2"/><circle cx="312" cy="943" r="2" fill="#8dd3c7"/><circle cx="311" cy="977" r="2" fill="#8dd3c7"/>
</g>
<g id="legendC" class="lg">
<rect x="193" y="1014.8" width="7" height="7" fill="#e41a1c"/><text x="202" y="1021.4">vasculature development</text>
<rect x="193" y="1024" width="7" height="7" fill="#377eb8"/><text x="202" y="1030.6">PID E2F PATHWAY</text>
<rect x="193" y="1033.2" width="7" height="7" fill="#4daf4a"/><text x="202" y="1039.8">skeletal system development</text>
<rect x="193" y="1042.4" width="7" height="7" fill="#984ea3"/><text x="202" y="1049">Pathways in cancer</text>
<rect x="193" y="1051.6" width="7" height="7" fill="#ff7f00"/><text x="202" y="1058.2">regulation of vasculature development</text>
<rect x="193" y="1060.8" width="7" height="7" fill="#ffff33"/><text x="202" y="1067.4">Transcriptional misregulation in cancer</text>
<rect x="193" y="1070" width="7" height="7" fill="#a65628"/><text x="202" y="1076.6">reproductive structure development</text>
<rect x="193" y="1079.2" width="7" height="7" fill="#f781bf"/><text x="202" y="1085.8">fibroblast growth factor receptor signaling pathway</text>
<rect x="193" y="1088.4" width="7" height="7" fill="#999999"/><text x="202" y="1095">regulation of body fluid levels</text>
<rect x="193" y="1097.6" width="7" height="7" fill="#8dd3c7"/><text x="202" y="1104.2">PID P53 DOWNSTREAM PATHWAY</text>
<rect x="193" y="1106.8" width="7" height="7" fill="#ffffb3"/><text x="202" y="1113.4">MAPK signaling pathway</text>
<rect x="193" y="1116" width="7" height="7" fill="#bebada"/><text x="202" y="1122.6">embryonic organ development</text>
<rect x="193" y="1125.2" width="7" height="7" fill="#fb8072"/><text x="202" y="1131.8">muscle structure development</text>
<rect x="193" y="1134.4" width="7" height="7" fill="#80b1d3"/><text x="202" y="1141">negative regulation of growth</text>
<rect x="193" y="1143.6" width="7" height="7" fill="#fdb462"/><text x="202" y="1150.2">cellular cation homeostasis</text>
<rect x="193" y="1152.8" width="7" height="7" fill="#b3de69"/><text x="202" y="1159.4">renal system development</text>
<rect x="193" y="1162" width="7" height="7" fill="#fccde5"/><text x="202" y="1168.6">mitotic sister chromatid segregation</text>
<rect x="193" y="1171.2" width="7" height="7" fill="#d9d9d9"/><text x="202" y="1177.8">appendage development</text>
<rect x="193" y="1180.4" width="7" height="7" fill="#bc80bd"/><text x="202" y="1187">NABA MATRISOME ASSOCIATED</text>
</g>
</g>

<g id="panelD" class="t">
<text class="pl" x="432" y="949">D</text>
<use href="#cnet" x="436"/>
<g class="dn" fill="#f8f6d3" transform="translate(436 0)">
<circle cx="98" cy="943" r="2.2"/><circle cx="113" cy="962" r="2.2" fill="#f3bc4f"/><circle cx="124" cy="957" r="2.2"/><circle cx="128" cy="967" r="2.2"/><circle cx="137" cy="967" r="2.2"/><circle cx="146" cy="954" r="2.2"/><circle cx="156" cy="956" r="2.2"/><circle cx="166" cy="953" r="2.2"/><circle cx="179" cy="958" r="2.2"/><circle cx="142" cy="973" r="2.2" fill="#f3bc4f"/><circle cx="167" cy="972" r="2.2" fill="#f3bc4f"/><circle cx="177" cy="972" r="2.2"/><circle cx="102" cy="973" r="2.2" fill="#f3bc4f"/><circle cx="47" cy="983" r="2.4"/><circle cx="80" cy="981" r="2.2"/><circle cx="105" cy="983" r="2.2"/><circle cx="157" cy="982" r="3.4" fill="#f2a43a"/><circle cx="173" cy="985" r="2.2"/><circle cx="204" cy="986" r="2.2"/><circle cx="218" cy="969" r="2.2"/><circle cx="48" cy="994" r="2.2"/><circle cx="73" cy="986" r="2.2"/><circle cx="93" cy="990" r="2.2" fill="#f3bc4f"/><circle cx="113" cy="992" r="2.2"/><circle cx="132" cy="990" r="2.4" fill="#f3bc4f"/><circle cx="152" cy="985" r="2.2" fill="#f3bc4f"/><circle cx="188" cy="994" r="2.2"/><circle cx="166" cy="1002" r="4" fill="#f2a43a"/><circle cx="147" cy="1005" r="4.6" fill="#ef9431"/><circle cx="132" cy="1007" r="3.6" fill="#f2a43a"/><circle cx="216" cy="1004" r="3.6" fill="#f3bc4f"/><circle cx="52" cy="1016" r="2.2" fill="#f3bc4f"/><circle cx="65" cy="1003" r="2.2"/><circle cx="97" cy="1005" r="2.2" fill="#f3bc4f"/><circle cx="110" cy="1017" r="2.2"/><circle cx="83" cy="1012" r="2.2"/><circle cx="153" cy="1022" r="2.2" fill="#f3bc4f"/><circle cx="140" cy="1025" r="2.4" fill="#f3bc4f"/><circle cx="159" cy="1034" r="2.4" fill="#f2a43a"/><circle cx="151" cy="1031" r="2.2"/><circle cx="176" cy="1031" r="2.2"/><circle cx="88" cy="1021" r="2.2"/><circle cx="75" cy="1020" r="2.2"/><circle cx="102" cy="1033" r="2.2" fill="#f3bc4f"/><circle cx="67" cy="1037" r="2.2"/><circle cx="117" cy="1032" r="2.2" fill="#f3bc4f"/><circle cx="127" cy="1038" r="2.2"/><circle cx="116" cy="1044" r="2.2"/><circle cx="128" cy="1047" r="2.2"/><circle cx="82" cy="1040" r="2.2"/><circle cx="63" cy="1057" r="2.2"/><circle cx="90" cy="1054" r="2.2"/><circle cx="75" cy="1060" r="2.2"/><circle cx="133" cy="1061" r="2.2"/><circle cx="57" cy="1068" r="2.2"/><circle cx="10" cy="1062" r="2.2"/><circle cx="90" cy="1067" r="2.2"/><circle cx="82" cy="1077" r="2.2"/><circle cx="128" cy="1077" r="2.2"/><circle cx="153" cy="1078" r="2.2"/><circle cx="97" cy="1073" r="2.2"/><circle cx="90" cy="1085" r="2.2"/><circle cx="73" cy="1093" r="2.2"/><circle cx="87" cy="1089" r="2.2"/><circle cx="2" cy="1087" r="2.2"/><circle cx="28" cy="1092" r="2.2"/><circle cx="107" cy="1106" r="2.2"/><circle cx="121" cy="1095" r="2.2"/><circle cx="89" cy="1137" r="2.2"/><circle cx="134" cy="1148" r="2.2"/><circle cx="107" cy="1154" r="2.2"/>
<circle cx="248" cy="943" r="2"/><circle cx="248" cy="978" r="2"/><circle cx="280" cy="943" r="2"/><circle cx="279" cy="977" r="2"/><circle cx="312" cy="943" r="2"/><circle cx="311" cy="977" r="2"/>
</g>
<g id="legendD" stroke="#b5b5b5" stroke-width="0.8">
<rect x="658" y="1034" width="21" height="18.9" fill="#fbf8d2"/>
<rect x="658" y="1052.9" width="21" height="18.9" fill="#f6dc92"/>
<rect x="658" y="1071.8" width="21" height="18.9" fill="#f3bc4f"/>
<rect x="658" y="1090.7" width="21" height="18.9" fill="#f0962e"/>
<rect x="658" y="1109.6" width="21" height="18.9" fill="#d65f1a"/>
<rect x="658" y="1128.5" width="21" height="18.9" fill="#9a3522"/>
</g>
<g font-size="11.5">
<text x="685" y="1048">10<tspan font-size="7.5" dy="-5">-2</tspan></text>
<text x="685" y="1067">10<tspan font-size="7.5" dy="-5">-3</tspan></text>
<text x="685" y="1086">10<tspan font-size="7.5" dy="-5">-4</tspan></text>
<text x="685" y="1105">10<tspan font-size="7.5" dy="-5">-6</tspan></text>
<text x="685" y="1124">10<tspan font-size="7.5" dy="-5">-10</tspan></text>
<text x="685" y="1143">10<tspan font-size="7.5" dy="-5">-20</tspan></text>
</g>
</g>
</svg>
